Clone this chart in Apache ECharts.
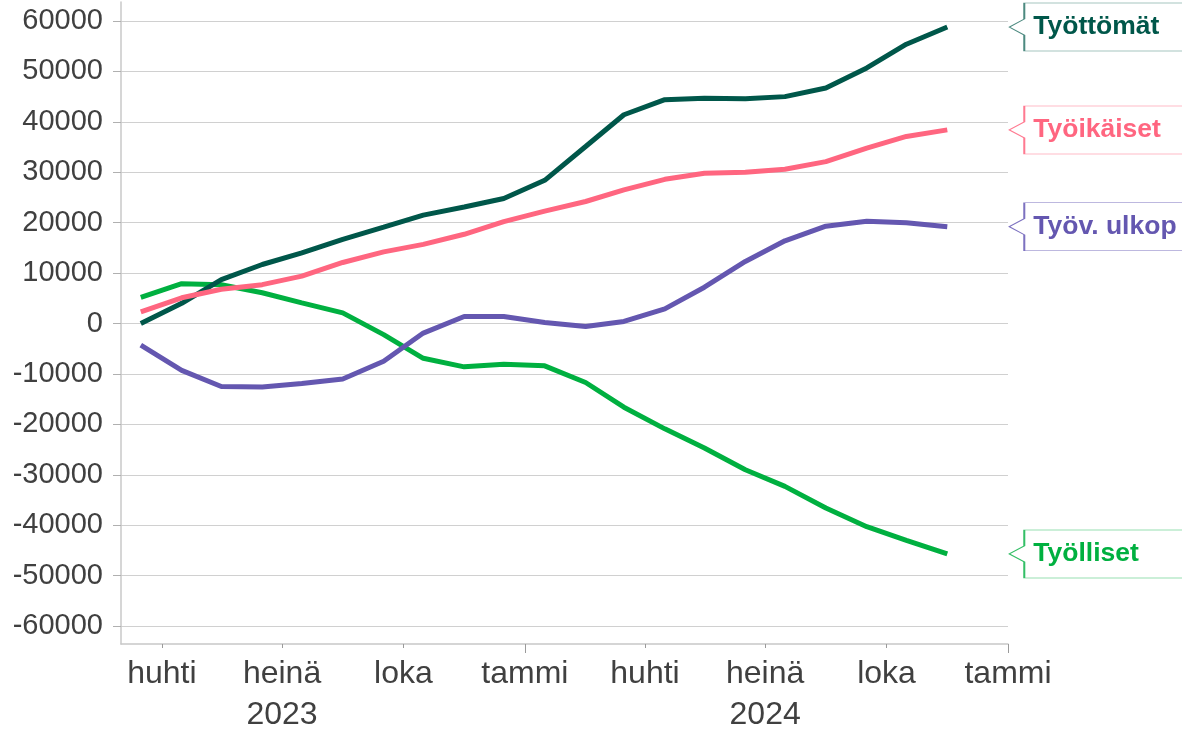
<!DOCTYPE html>
<html>
<head>
<meta charset="utf-8">
<script src="https://cdn.jsdelivr.net/npm/echarts@6/dist/echarts.min.js"></script>
<style>
  html, body { margin: 0; padding: 0; background: #fff; }
  #main { width: 1182px; height: 731px; }
</style>
</head>
<body>
<div id="main"></div>
<script>
const chartDom = document.getElementById('main');
const myChart = echarts.init(chartDom);

// Monthly observations, March 2023 - November 2024
const months = [
  '2023-03', '2023-04', '2023-05', '2023-06', '2023-07', '2023-08', '2023-09',
  '2023-10', '2023-11', '2023-12', '2024-01', '2024-02', '2024-03', '2024-04',
  '2024-05', '2024-06', '2024-07', '2024-08', '2024-09', '2024-10', '2024-11'
];

const tyolliset = [5200, 7900, 7700, 6100, 4100, 2100, -2200, -6900, -8600, -8100, -8400,
  -11700, -16600, -20900, -24700, -29000, -32300, -36600, -40300, -43000, -45700];
const tyottomat = [0, 4000, 8700, 11700, 14000, 16700, 19100, 21500, 23100, 24800, 28400,
  35100, 41400, 44400, 44700, 44600, 45000, 46700, 50700, 55400, 58800];
const tyoikaiset = [2300, 5100, 6800, 7700, 9400, 12100, 14200, 15700, 17700, 20200, 22300,
  24200, 26500, 28600, 29800, 30000, 30600, 32100, 34800, 37100, 38400];
const ulkop = [-4300, -9300, -12500, -12600, -11900, -11000, -7500, -1900, 1400, 1400, 200,
  -600, 400, 2900, 7200, 12300, 16400, 19300, 20300, 20000, 19200];

const seriesDefs = [
  { name: 'Työlliset', values: tyolliset, color: '#00b040', border: '#33bf66' },
  { name: 'Työttömät', values: tyottomat, color: '#00574a', border: '#4d8a80' },
  { name: 'Työikäiset', values: tyoikaiset, color: '#ff6680', border: '#ff7a91' },
  { name: 'Työv. ulkop', values: ulkop, color: '#6457b0', border: '#7d72c0' }
];

// quarter ticks on the date axis, long ticks at year change
const quarterTicks = [[2023, 3], [2023, 6], [2023, 9], [2024, 0], [2024, 3], [2024, 6], [2024, 9], [2025, 0]];
const yearTicks = [[2024, 0], [2025, 0]];
const monthNames = { 0: 'tammi', 3: 'huhti', 6: 'heinä', 9: 'loka' };

const ts = (y, m, d) => new Date(y, m, d || 1).getTime();
const xMin = ts(2023, 2, 1);
const xMax = ts(2025, 0, 1);

const toData = (vals) => vals.map((v, i) => {
  const [y, m] = months[i].split('-').map(Number);
  return [ts(y, m - 1, 16), v];
});

const font = 'Liberation Sans, Arial, sans-serif';
const calloutPath = 'path://M0,24L15,16L15,0L200,0L200,48L15,48L15,32Z';

const option = {
  animation: false,
  backgroundColor: '#fff',
  grid: [
    { left: 121, right: 174, top: 21, height: 605, outerBoundsMode: 'none' },
    { left: 121, right: 174, top: 2, bottom: 87, outerBoundsMode: 'none' }
  ],
  xAxis: [
    {
      type: 'value',
      gridIndex: 0,
      min: xMin,
      max: xMax,
      offset: 18,
      axisLine: { show: false, onZero: false },
      axisTick: {
        show: true,
        length: 4,
        customValues: quarterTicks.map(q => ts(q[0], q[1])),
        lineStyle: { color: '#9a9a9a' }
      },
      axisLabel: {
        show: true,
        customValues: quarterTicks.map(q => ts(q[0], q[1])),
        margin: 10,
        fontSize: 32,
        lineHeight: 41,
        fontFamily: font,
        color: '#404040',
        formatter: (value) => {
          const d = new Date(value);
          const name = monthNames[d.getMonth()];
          return d.getMonth() === 6 ? name + '\n' + d.getFullYear() : name;
        }
      },
      splitLine: { show: false }
    },
    {
      type: 'value',
      gridIndex: 1,
      min: xMin,
      max: xMax,
      axisLine: { show: true, onZero: false, lineStyle: { color: '#c8c8c8', width: 1.5 } },
      axisTick: {
        show: true,
        length: 9,
        customValues: yearTicks.map(q => ts(q[0], q[1])),
        lineStyle: { color: '#9a9a9a' }
      },
      axisLabel: { show: false },
      splitLine: { show: false }
    }
  ],
  yAxis: [
    {
      type: 'value',
      gridIndex: 0,
      min: -60000,
      max: 60000,
      interval: 10000,
      axisLine: { show: false },
      axisTick: { show: true, length: 8, lineStyle: { color: '#b0b0b0' } },
      axisLabel: {
        margin: 18,
        fontSize: 29,
        fontFamily: font,
        color: '#404040',
        formatter: (v) => String(v)
      },
      splitLine: { show: true, lineStyle: { color: '#d0d0d0', width: 1.2 } }
    },
    {
      type: 'value',
      gridIndex: 1,
      min: 0,
      max: 1,
      axisLine: { show: true, lineStyle: { color: '#c8c8c8', width: 1.5 } },
      axisTick: { show: false },
      axisLabel: { show: false },
      splitLine: { show: false }
    }
  ],
  series: seriesDefs.map(s => {
    const data = toData(s.values);
    const last = data[data.length - 1];
    return {
      name: s.name,
      type: 'line',
      xAxisIndex: 0,
      yAxisIndex: 0,
      data: data,
      showSymbol: false,
      symbol: 'none',
      lineStyle: { color: s.color, width: 5 },
      itemStyle: { color: s.color },
      markPoint: {
        silent: true,
        symbol: calloutPath,
        symbolSize: [200, 48],
        symbolKeepAspect: false,
        symbolOffset: [162, 0],
        itemStyle: { color: '#fff', borderColor: s.border, borderWidth: 1 },
        label: {
          show: true,
          position: 'insideLeft',
          distance: 25,
          formatter: s.name,
          color: s.color,
          fontWeight: 'bold',
          fontSize: 26.5,
          fontFamily: font
        },
        data: [{ coord: last }]
      }
    };
  })
};

myChart.setOption(option);
window.onresize = () => myChart.resize();
</script>
</body>
</html>
